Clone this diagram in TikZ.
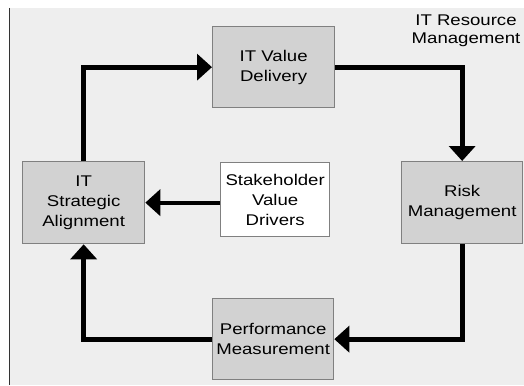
\documentclass[tikz,border=0pt]{standalone}
\usepackage{fontspec}
\setmainfont{Liberation Sans}[FakeStretch=1.2]
\usetikzlibrary{arrows.meta}
\definecolor{panel}{HTML}{EEEEEE}
\definecolor{boxfill}{HTML}{D2D2D2}
\definecolor{boxline}{HTML}{808080}
\begin{document}
\begin{tikzpicture}[x=1pt,y=-1pt,
  govbox/.style={draw=boxline,line width=1.3pt,fill=boxfill,inner sep=0pt,
    align=center,font=\fontsize{15.5}{20}\selectfont,anchor=north west},
  drvbox/.style={govbox,fill=white},
  flow/.style={line width=4.8pt,-{Triangle[length=15pt,width=26pt]}},
]
\useasboundingbox (0,0) rectangle (524,385);
% backdrop panel and its left rule
\fill[panel] (9,8) rectangle (524,385);
\draw[line width=1.5pt,black!80] (9.5,8) -- (9.5,385);

% process boxes
\node[govbox,minimum width=122pt,minimum height=81pt] (vd) at (212,26) {IT Value\\Delivery};
\node[govbox,minimum width=121pt,minimum height=82pt] (rm) at (401,161) {Risk\\Management};
\node[govbox,minimum width=122pt,minimum height=82pt] (sa) at (22,161) {IT\\Strategic\\Alignment};
\node[govbox,minimum width=121pt,minimum height=81pt] (pm) at (212,298) {Performance\\Measurement};
\node[drvbox,minimum width=109pt,minimum height=74pt] (sv) at (220,162) {Stakeholder\\Value\\Drivers};

% heading
\node[align=center,font=\fontsize{15.5}{18}\selectfont,inner sep=0pt] (irm) at (466,31) {IT Resource\\Management};

% cycle connectors
\draw[flow] (sa.north) |- (vd.west);
\draw[flow] (vd.east) -| (rm.north);
\draw[flow] (rm.south) |- (pm.east);
\draw[flow] (pm.west) -| (sa.south);
\draw[flow,line width=4.2pt] (sv.west |- sa.east) -- (sa.east);
\end{tikzpicture}
\end{document}
